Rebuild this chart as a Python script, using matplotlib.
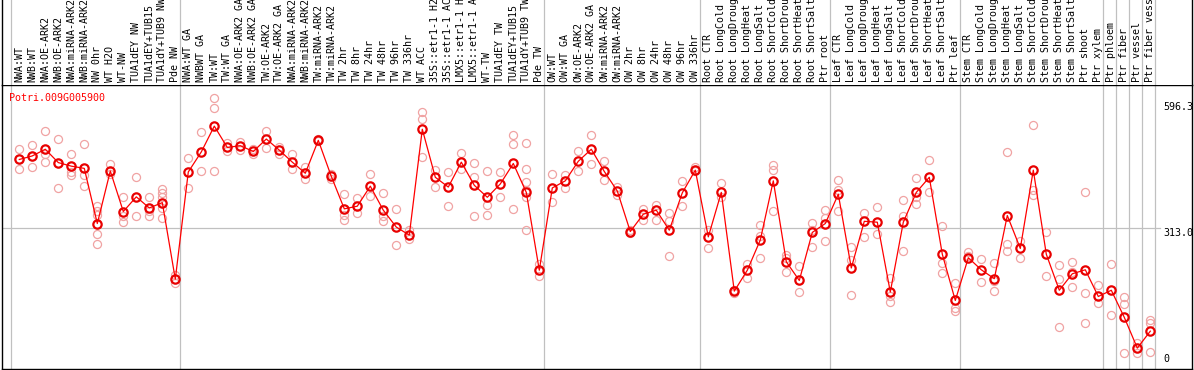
import numpy as np
import matplotlib
matplotlib.use('Agg')
import matplotlib.pyplot as plt

gene = 'Potri.009G005900'

labels = ['NWA:WT', 'NWB:WT', 'NWA:OE-ARK2', 'NWB:OE-ARK2', 'NWA:miRNA-ARK2', 'NWB:miRNA-ARK2',
          'NW 0hr', 'WT H2O', 'WT-NW', 'TUA1dEY NW', 'TUA1dEY+TUB15', 'TUA1dY+TUB9 NW', 'Pde NW',
          'NWA:WT GA', 'NWBWT GA', 'TW:WT', 'TW:WT GA', 'NWA:OE-ARK2 GA', 'NWB:OE-ARK2 GA',
          'TW:OE-ARK2', 'TW:OE-ARK2 GA', 'NWA:miRNA-ARK2', 'NWB:miRNA-ARK2', 'TW:miRNA-ARK2',
          'TW:miRNA-ARK2', 'TW 2hr', 'TW 8hr', 'TW 24hr', 'TW 48hr', 'TW 96hr', 'TW 336hr',
          'WT ACC', '35S::etr1-1 H2', '35S::etr1-1 AC', 'LMX5::etr1-1 H', 'LMX5::etr1-1 A',
          'WT-TW', 'TUA1dEY TW', 'TUA1dEY+TUB15', 'TUA1dY+TUB9 TW', 'Pde TW',
          'OW:WT', 'OW:WT GA', 'OW:OE-ARK2', 'OW:OE-ARK2 GA', 'OW:miRNA-ARK2', 'OW:miRNA-ARK2',
          'OW 2hr', 'OW 8hr', 'OW 24hr', 'OW 48hr', 'OW 96hr', 'OW 336hr',
          'Root CTR', 'Root LongCold', 'Root LongDroug', 'Root LongHeat', 'Root LongSalt',
          'Root ShortCold', 'Root ShortDrou', 'Root ShortHeat', 'Root ShortSalt', 'Ptr root',
          'Leaf CTR', 'Leaf LongCold', 'Leaf LongDroug', 'Leaf LongHeat', 'Leaf LongSalt',
          'Leaf ShortCold', 'Leaf ShortDrou', 'Leaf ShortHeat', 'Leaf ShortSalt', 'Ptr leaf',
          'Stem CTR', 'Stem LongCold', 'Stem LongDroug', 'Stem LongHeat', 'Stem LongSalt',
          'Stem ShortCold', 'Stem ShortDrou', 'Stem ShortHeat', 'Stem ShortSalt', 'Ptr shoot',
          'Ptr xylem', 'Ptr phloem', 'Ptr fiber', 'Ptr vessel', 'Ptr fiber vessel']

means = [467, 475, 490, 460, 452, 447, 323, 441, 350, 383, 358, 370, 198,
         439, 484, 542, 494, 498, 485, 513, 488, 461, 436, 510, 429, 356, 362,
         407, 353, 315, 297, 535, 427, 405, 461, 409, 382, 412, 458, 393, 218,
         403, 419, 463, 490, 440, 396, 305, 344, 353, 308, 392, 443,
         293, 393, 171, 218, 286, 419, 237, 195, 303, 323,
         389, 223, 328, 326, 169, 326, 393, 427, 254, 150,
         246, 219, 199, 341, 267, 443, 254, 173, 210, 219, 159,
         173, 112, 43, 81]

reps = [[490, 467, 446], [500, 475, 449], [532, 479, 462], [512, 460, 404], [479, 438, 432],
        [502, 432, 407], [363, 352, 342, 300, 276], [457, 434], [383, 340, 326], [427, 341],
        [383, 340, 352], [401, 392, 383, 359, 335], [207, 190],
        [471, 404], [528, 441], [605, 582, 441], [503, 486], [507, 488], [490, 480],
        [532, 492], [496, 479], [479, 445], [449, 424], [512, 508], [434, 424],
        [389, 342, 332], [380, 347], [434, 385], [392, 340, 328], [356, 275], [308, 288],
        [573, 557, 472], [443, 406], [438, 362], [481, 445], [458, 427, 341],
        [441, 364, 343], [439, 382], [521, 501, 355], [503, 445, 417, 398, 383, 308],
        [232, 205],
        [434, 371], [432, 404], [486, 441], [521, 457], [464, 421], [406, 387],
        [308, 302], [356, 331], [365, 331], [346, 329, 250], [419, 362], [449, 440],
        [308, 268], [413, 383], [173, 166], [231, 200], [320, 296, 246], [455, 443, 351],
        [252, 245, 213], [228, 169], [325, 308, 271], [353, 335, 284],
        [421, 398, 352], [270, 241, 162], [346, 293], [360, 300], [200, 159, 147],
        [376, 340, 261], [425, 383, 366], [466, 395], [317, 234, 212], [190, 132, 127],
        [258, 250], [243, 191], [234, 193, 171], [483, 277, 262], [284, 245],
        [545, 398, 388], [303, 206], [229, 198, 91], [236, 215, 180], [393, 166, 99],
        [185, 144], [231, 117], [157, 142, 33], [55, 31], [106, 99, 35]]

group_starts = [0, 13, 41, 53, 63, 73, 84, 85, 86, 87, 88]
ytick_vals = [0, 313.0, 596.3]

plt.rcParams['font.family'] = ['DejaVu Sans Mono']
FS = 7.2
W, H = 1194, 370
fig = plt.figure(figsize=(W / 100, H / 100), dpi=100)

# pixel geometry
x0_px, dx_px = 19.3, 13.0
left_px, right_px = 1.7, 1192.3
top_px, bot_px = 85.0, 369.0
zero_px, scale = 367.2, 0.4448

xlim = ((left_px - x0_px) / dx_px, (right_px - x0_px) / dx_px)
ylim = ((zero_px - bot_px) / scale, (zero_px - top_px) / scale)

ax = fig.add_axes([left_px / W, 1 - bot_px / H, (right_px - left_px) / W, (bot_px - top_px) / H])
hd = fig.add_axes([left_px / W, 1 - top_px / H, (right_px - left_px) / W, top_px / H])

x = np.arange(len(labels))
grid_c = '#c0c0c0'
for a in (ax, hd):
    a.set_xlim(xlim)
    for g in group_starts:
        a.axvline(g - 0.67, color=grid_c, lw=0.9, zorder=0)
    a.set_xticks([])
    a.set_yticks([])
    for s in a.spines.values():
        s.set_color('black')
        s.set_linewidth(1.0)
ax.set_ylim(ylim)
hd.set_ylim(0, 1)
hd.spines['top'].set_visible(False)
hd.spines['bottom'].set_visible(False)

ax.plot([xlim[0], (1160 - x0_px) / dx_px], [313.0, 313.0], color=grid_c, lw=0.9, zorder=0)

# replicates
for i, r in enumerate(reps):
    ax.plot([i] * len(r), r, 'o', ms=5.8, mfc='none', mec='#f0a3a3', mew=0.9, zorder=2)
ax.plot(x, means, '-', color='red', lw=0.9, zorder=3)
ax.plot(x, means, 'o', ms=6.0, mfc='none', mec='#e80000', mew=1.6, zorder=4)

for v in ytick_vals:
    txt = '0' if v == 0 else '%.1f' % v
    ax.text((1163 - x0_px) / dx_px, v if v > 0 else 7, txt, fontsize=FS, color='black',
            ha='left', va='top' if v > 0 else 'bottom')

for i, lab in enumerate(labels):
    hd.text(i, 3.0 / top_px, lab, rotation=90, ha='center', va='bottom', fontsize=FS,
            color='black')

fig.text(9.3 / W, 1 - 93 / H, gene, color='red', fontsize=FS, ha='left', va='top')

fig.savefig('out.png', dpi=100)
